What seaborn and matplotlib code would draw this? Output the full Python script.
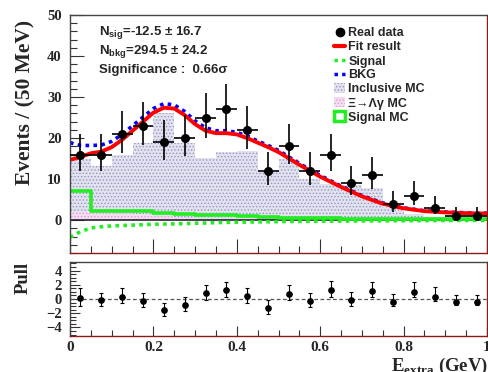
import matplotlib
matplotlib.use("Agg")
import matplotlib.pyplot as plt
from matplotlib.patches import Rectangle
from matplotlib.lines import Line2D
from matplotlib.ticker import MultipleLocator
import numpy as np
import pandas as pd
import seaborn as sns

sns.set_theme(style="ticks")
plt.rcParams['font.family'] = ['Liberation Serif', 'DejaVu Serif']
plt.rcParams['mathtext.fontset'] = 'custom'
plt.rcParams['mathtext.rm'] = 'Liberation Serif:bold'
plt.rcParams['mathtext.sf'] = 'Liberation Sans:bold'
plt.rcParams['hatch.linewidth'] = 0.6

# binning (20 bins of 50 MeV)
bin_edges = list(np.linspace(0, 1, 21))
bin_centers = list(np.linspace(0, 1, 21)[:-1] + 0.025)

# data points with asymmetric poisson errors
data_counts = [16, 16, 21, 23, 19, 20, 25, 27, 22, 12, 18, 12, 16, 9, 11, 4, 6, 3, 1, 1]
err_up = [5.1, 5.1, 5.7, 5.9, 5.5, 5.6, 6.1, 6.3, 5.8, 4.6, 5.4, 4.6, 5.1, 4.1, 4.4, 3.2, 3.6, 2.9, 2.3, 2.3]
err_dn = [4.0, 4.0, 4.6, 4.8, 4.3, 4.4, 5.0, 5.2, 4.7, 3.4, 4.2, 3.4, 4.0, 2.9, 3.3, 1.9, 2.4, 1.6, 0.8, 0.8]

# MC histograms
incl_mc = [15.0, 13.2, 15.8, 18.9, 26.1, 18.8, 15.1, 16.7, 16.9, 11.8,
           14.9, 10.0, 8.8, 8.6, 7.8, 3.3, 1.6, 0.8, 1.2, 1.2]
xi_mc = [2.0, 2.0, 1.8, 1.5, 1.0, 0.6, 0.4, 0.3, 0.2, 0.1,
         0.0, 0.0, 0.0, 0.0, 0.0, 0.0, 0.0, 0.0, 0.0, 0.0]
sig_mc = [7.1, 2.2, 2.2, 2.2, 1.8, 1.6, 1.2, 1.2, 0.9, 0.8,
          0.6, 0.5, 0.5, 0.4, 0.4, 0.3, 0.3, 0.3, 0.2, 0.2]

# fit curves
curve_x = [0, 0.025, 0.05, 0.075, 0.1, 0.125, 0.15, 0.175, 0.2, 0.225, 0.25, 0.275, 0.3,
           0.325, 0.35, 0.375, 0.4, 0.425, 0.45, 0.475, 0.5, 0.55, 0.6, 0.65, 0.7, 0.75,
           0.8, 0.85, 0.9, 0.95, 1.0]
fit_y = [14.7, 15.4, 16.3, 16.7, 17.8, 19.6, 21.8, 24.0, 26.2, 27.4, 27.2, 25.6, 23.4,
         21.8, 21.2, 21.2, 20.9, 20.0, 18.9, 17.8, 16.6, 13.5, 10.6, 8.1, 5.8, 4.0,
         2.9, 2.2, 1.9, 1.7, 1.6]
bkg_y = [18.9, 18.2, 18.2, 18.3, 19.2, 20.9, 23.0, 25.1, 27.2, 28.4, 28.1, 26.5, 24.2,
         22.5, 21.8, 21.8, 21.4, 20.5, 19.3, 18.2, 17.0, 13.8, 10.9, 8.3, 6.0, 4.2,
         3.0, 2.3, 2.0, 1.8, 1.7]
sig_y = [-4.2, -2.8, -1.9, -1.6, -1.4, -1.3, -1.2, -1.1, -1.0, -0.95, -0.9, -0.85, -0.75,
         -0.7, -0.6, -0.55, -0.5, -0.46, -0.42, -0.38, -0.35, -0.3, -0.25, -0.22, -0.18, -0.15,
         -0.12, -0.1, -0.08, -0.06, -0.05]

# pulls
pull = [0.1, -0.2, 0.3, -0.3, -1.6, -0.85, 0.8, 1.25, 0.4, -1.2,
        0.7, -0.3, 1.2, -0.2, 1.1, -0.45, 1.0, 0.25, -0.45, -0.4]
pull_up = [1.4, 1.1, 1.2, 1.1, 1.1, 1.1, 1.2, 1.2, 1.2, 1.1, 1.3, 1.1, 1.3, 1.2, 1.3, 1.2, 1.4, 1.4, 1.0, 0.9]
pull_dn = [1.1, 0.8, 0.9, 0.8, 0.8, 0.9, 1.0, 1.0, 0.9, 0.9, 0.9, 0.8, 0.9, 0.8, 0.8, 0.6, 0.7, 0.6, 0.4, 0.4]

mc = pd.DataFrame({'x': bin_centers, 'incl': incl_mc, 'xi': xi_mc, 'sig': sig_mc})

fig = plt.figure(figsize=(4.88, 3.72), dpi=100)
ax1 = fig.add_axes([70/488, 1-253/372, 417/488, 238/372])
ax2 = fig.add_axes([70/488, 1-336/372, 417/488, 74/372])
ax1.set_facecolor('white')
ax2.set_facecolor('white')

incl_face, incl_edge = '#e2e2ee', '#9494c4'
xi_face, xi_edge = '#f6dcf2', '#d8a0d4'
green = '#22ee22'

# histograms
sns.histplot(data=mc, x='x', weights='incl', bins=bin_edges, ax=ax1, element='bars',
             facecolor=incl_face, edgecolor=incl_edge, hatch='.....', linewidth=0, alpha=1)
sns.histplot(data=mc, x='x', weights='xi', bins=bin_edges, ax=ax1, element='bars',
             facecolor=xi_face, edgecolor=xi_edge, hatch='.....', linewidth=0, alpha=1)
ax1.axhline(0, color='#2a2030', lw=1.2)
sns.histplot(data=mc, x='x', weights='sig', bins=bin_edges, ax=ax1, element='step',
             fill=False, color=green, linewidth=2.6)

# curves
sns.lineplot(x=curve_x, y=sig_y, ax=ax1, color=green, lw=2.6, linestyle=(0, (1, 1.2)))
sns.lineplot(x=curve_x, y=bkg_y, ax=ax1, color='blue', lw=2.6, linestyle=(0, (1, 1.2)))
sns.lineplot(x=curve_x, y=fit_y, ax=ax1, color='red', lw=2.8)

# data
ax1.errorbar(bin_centers, data_counts, yerr=[err_dn, err_up], xerr=0.025, fmt='o',
             color='black', ms=5.5, elinewidth=1.2, capsize=0, zorder=10)

ax1.set_xlim(0, 1)
ax1.set_ylim(-8, 50)
ax1.set_xlabel('')
ax1.set_ylabel('')
ax1.yaxis.set_major_locator(MultipleLocator(10))
ax1.yaxis.set_minor_locator(MultipleLocator(2))
ax1.xaxis.set_major_locator(MultipleLocator(0.2))
ax1.xaxis.set_minor_locator(MultipleLocator(0.05))
ax1.tick_params(axis='x', labelbottom=False)

# pull panel
ax2.errorbar(bin_centers, pull, yerr=[pull_dn, pull_up], fmt='o', color='black', ms=3.8,
             elinewidth=0.8, capsize=1.6, capthick=0.8, zorder=10)
ax2.axhline(0, color='#555555', lw=0.9, ls=(0, (3, 2)))
ax2.set_xlim(0, 1)
ax2.set_ylim(-5.2, 5.2)
ax2.yaxis.set_major_locator(MultipleLocator(2))
ax2.yaxis.set_minor_locator(MultipleLocator(0.5))
ax2.xaxis.set_minor_locator(MultipleLocator(0.05))
ax2.set_xticks([0, 0.2, 0.4, 0.6, 0.8, 1.0])
ax2.set_xticklabels(['0', '0.2', '0.4', '0.6', '0.8', '1'])

for ax in (ax1, ax2):
    ax.grid(False)
    ax.spines['top'].set_color('#444444')
    ax.spines['left'].set_color('#444444')
    ax.spines['bottom'].set_color('#8b1a1a')
    ax.spines['right'].set_color('#8b1a1a')
    for s in ax.spines.values():
        s.set_linewidth(1.0)
    ax.tick_params(which='both', direction='in', top=False, right=False, color='#333333', width=0.8)
    ax.tick_params(which='major', length=10)
    ax.tick_params(which='minor', length=5)
    for lab in ax.get_yticklabels():
        lab.set_fontweight('bold')
        lab.set_fontsize(10.5)
    for lab in ax.get_xticklabels():
        lab.set_fontweight('bold')
        lab.set_fontsize(11)
ax2.tick_params(which='major', length=7)
ax2.tick_params(which='minor', length=4)
ax2.tick_params(axis='y', pad=6)
ax1.tick_params(axis='y', pad=6)

# axis titles
fig.text(25/488, 1-20/372, 'Events / (50 MeV)', rotation=90, ha='center', va='top',
         fontsize=15.5, fontweight='bold')
fig.text(23/488, 1-262/372, 'Pull', rotation=90, ha='center', va='top',
         fontsize=13.5, fontweight='bold')
fig.text(1.0, 1-356/372, r'E$_{\mathrm{extra}}$ (GeV)', ha='right', va='top',
         fontsize=13.5, fontweight='bold')

# fit summary
txt = dict(family='Liberation Sans', fontweight='bold', fontsize=9.5, va='baseline', ha='left')
fig.text(99/488, 1-35/372, r'N$_{\mathsf{sig}}$=-12.5 ± 16.7', **txt)
fig.text(99/488, 1-54/372, r'N$_{\mathsf{bkg}}$=294.5 ± 24.2', **txt)
fig.text(99/488, 1-73/372, 'Significance :  0.66σ', **txt)

# legend
handles = [
    Line2D([], [], marker='o', color='black', ls='none', ms=6),
    Line2D([], [], color='red', lw=3),
    Line2D([], [], color=green, lw=2.5, ls=(0, (1, 1.2))),
    Line2D([], [], color='blue', lw=2.5, ls=(0, (1, 1.2))),
    Rectangle((0, 0), 1, 1, facecolor=incl_face, edgecolor=incl_edge, hatch='.....', lw=0),
    Rectangle((0, 0), 1, 1, facecolor=xi_face, edgecolor=xi_edge, hatch='.....', lw=0),
    Rectangle((0, 0), 1, 1, facecolor='white', edgecolor=green, lw=2.5),
]
labels = ['Real data', 'Fit result', 'Signal', 'BKG', 'Inclusive MC', 'Ξ→Λγ MC', 'Signal MC']
ax1.legend(handles, labels, loc='upper left', bbox_to_anchor=(334/488, 1-27/372),
           bbox_transform=fig.transFigure, frameon=False, handlelength=0.9,
           handleheight=0.9, handletextpad=0.25, labelspacing=0.12, borderpad=0,
           borderaxespad=0, prop={'family': 'Liberation Sans', 'weight': 'bold', 'size': 9})

fig.savefig('out.png', dpi=100)
